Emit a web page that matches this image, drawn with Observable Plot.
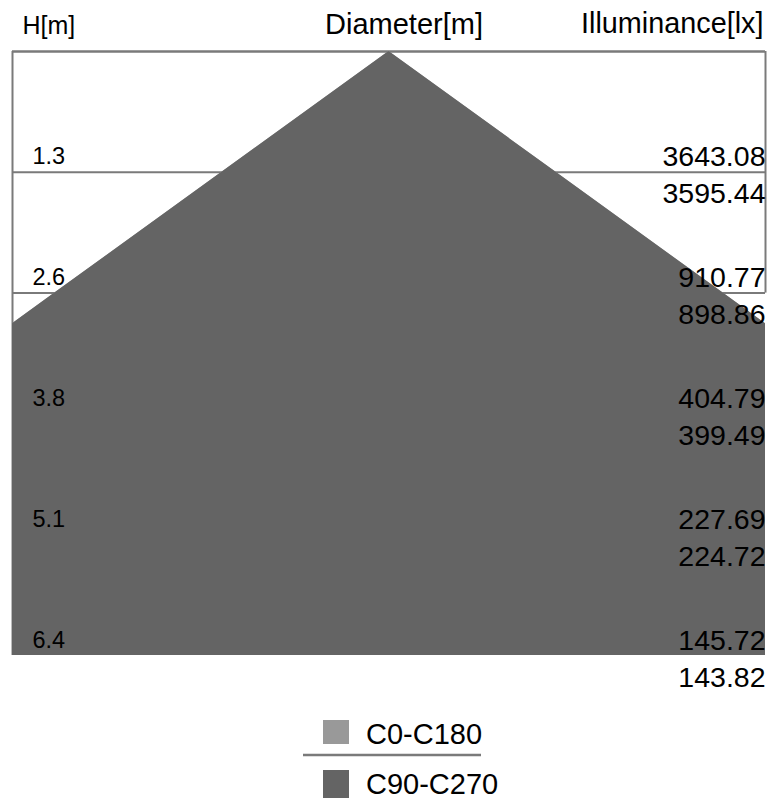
<!DOCTYPE html>
<html><head><meta charset="utf-8">
<script src="https://cdn.jsdelivr.net/npm/d3@7"></script>
<script src="https://cdn.jsdelivr.net/npm/@observablehq/plot@0.6"></script>
<style>
body{margin:0;background:#fff;font-family:"Liberation Sans",Arial,sans-serif;overflow:hidden;}
#chart svg,#legend svg{display:block;}
</style></head><body><div id="chart"></div><div id="legend"></div>
<script>
const heights = [1.275, 2.55, 3.825, 5.1, 6.375];
const heightLabels = ["1.3", "2.6", "3.8", "5.1", "6.4"];
const diameterC0 = [3.55, 7.10, 10.65, 14.20, 17.75];
const diameterC90 = [3.55, 7.10, 10.65, 14.20, 17.75];
const illumC0 = [3643.08, 910.77, 404.79, 227.69, 145.72];
const illumC90 = [3595.44, 898.86, 399.49, 224.72, 143.82];
const seriesNames = ["C0-C180", "C90-C270"];
const seriesColors = ["#999999", "#646464"];
const headers = ["H[m]", "Diameter[m]", "Illuminance[lx]"];

const FONT = '"Liberation Sans", Arial, sans-serif';
const gridColor = "#7a7a7a";
const xHalf = 4;           // half-width of the frame in metres
const hMax = heights[heights.length - 1];

const cone = (diams) => [{h: 0, D: 0}, ...heights.map((h, i) => ({h, D: diams[i]}))];
const rows = heights.map((h, i) => ({h, label: heightLabels[i], e0: illumC0[i], e90: illumC90[i]}));

const chart = Plot.plot({
  width: 770, height: 700,
  marginLeft: 12, marginRight: 5, marginTop: 51, marginBottom: 45,
  x: {domain: [-xHalf, xHalf], axis: null},
  y: {domain: [0, hMax], reverse: true, axis: null},
  style: {fontFamily: FONT, background: "white", overflow: "visible", color: "black"},
  marks: [
    Plot.ruleY(heights.filter(h => h < hMax), {stroke: gridColor, strokeWidth: 2}),
    Plot.ruleY([0], {stroke: gridColor, strokeWidth: 2.5}),
    Plot.ruleX([-xHalf], {y1: 0, y2: hMax, stroke: gridColor, strokeWidth: 2}),
    Plot.ruleX([xHalf], {y1: 0, y2: heights[1], stroke: gridColor, strokeWidth: 2}),
    Plot.areaX(cone(diameterC0), {y: "h", x1: d => -d.D / 2, x2: d => d.D / 2, fill: seriesColors[0], clip: true}),
    Plot.areaX(cone(diameterC90), {y: "h", x1: d => -d.D / 2, x2: d => d.D / 2, fill: seriesColors[1], clip: true}),
    Plot.text(rows, {x: -xHalf, y: "h", text: "label", textAnchor: "start", lineAnchor: "bottom",
      dx: 20, dy: -8, fontSize: 23.5, fill: "black"}),
    Plot.text(rows, {x: xHalf, y: "h", text: d => d.e0.toFixed(2), textAnchor: "end", lineAnchor: "bottom",
      dx: 0, dy: -6, fontSize: 28.5, fill: "black"}),
    Plot.text(rows, {x: xHalf, y: "h", text: d => d.e90.toFixed(2), textAnchor: "end", lineAnchor: "bottom",
      dx: 0, dy: 31, fontSize: 28.5, fill: "black"}),
    Plot.text([headers[0]], {frameAnchor: "top-left", textAnchor: "start", lineAnchor: "bottom",
      dx: 10, dy: -18, fontSize: 25, fill: "black"}),
    Plot.text([headers[1]], {x: 0, frameAnchor: "top", textAnchor: "middle", lineAnchor: "bottom",
      dx: 15, dy: -18, fontSize: 29, fill: "black"}),
    Plot.text([headers[2]], {frameAnchor: "top-right", textAnchor: "end", lineAnchor: "bottom",
      dx: -2, dy: -19, fontSize: 28.8, fill: "black"})
  ]
});
document.getElementById("chart").appendChild(chart);

// legend below the chart
const leg = d3.select("#legend").append("svg")
  .attr("width", 770).attr("height", 98)
  .style("font-family", FONT);
seriesNames.forEach((name, i) => {
  const top = 20 + i * 50;
  leg.append("rect").attr("x", 323).attr("y", top).attr("width", 26).attr("height", i ? 30 : 24)
    .attr("fill", seriesColors[i]);
  leg.append("text").attr("x", 366).attr("y", top + 23.5).attr("font-size", 29)
    .attr("fill", "black").text(name);
});
leg.append("line").attr("x1", 303).attr("x2", 481).attr("y1", 55).attr("y2", 55)
  .attr("stroke", gridColor).attr("stroke-width", 2.5);
</script></body></html>
